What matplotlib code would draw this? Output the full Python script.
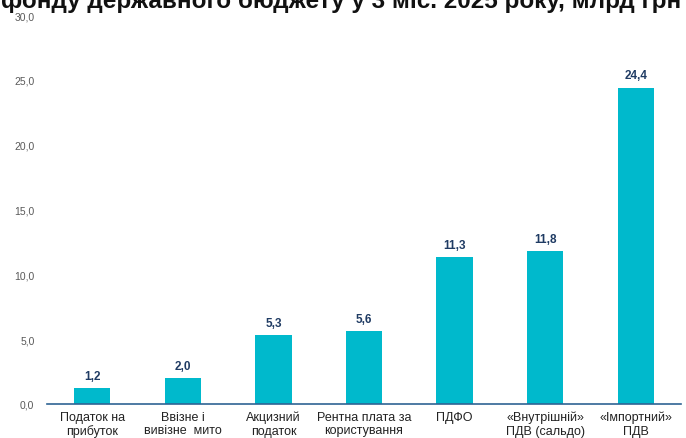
import matplotlib
matplotlib.use("Agg")
import matplotlib.pyplot as plt
import numpy as np

plt.rcParams['font.family'] = ['Liberation Sans', 'DejaVu Sans']

categories = ["Податок на\nприбуток", "Ввізне і\nвивізне  мито", "Акцизний\nподаток",
              "Рентна плата за\nкористування", "ПДФО", "«Внутрішній»\nПДВ (сальдо)",
              "«Імпортний»\nПДВ"]
values = [1.2, 2.0, 5.3, 5.6, 11.3, 11.8, 24.4]
yticks = [0, 5, 10, 15, 20, 25, 30]
title = "фонду державного бюджету у 3 міс. 2025 року, млрд грн"

bar_color = "#00B9CC"
label_color = "#1F3B63"
axis_color = "#2F6494"

fig = plt.figure(figsize=(6.86, 4.39), dpi=100)
ax = fig.add_axes([47 / 686, 34 / 439, 634 / 686, 389 / 439])

x = np.arange(len(values))
bars = ax.bar(x, values, width=0.4, color=bar_color)
for xi, v in zip(x, values):
    ax.text(xi, v + 0.5, f"{v:.1f}".replace(".", ","), ha="center", va="bottom",
            fontsize=8.5, fontweight="bold", color=label_color)

ax.set_xlim(-0.5, len(values) - 0.5)
ax.set_ylim(0, 30)
ax.set_yticks(yticks)
ax.set_yticklabels([f"{t:.1f}".replace(".", ",") for t in yticks], fontsize=7.5, color="#595959")
ax.set_xticks(x)
ax.set_xticklabels(categories, fontsize=9, color="#222222",
                   family=['Liberation Sans Narrow', 'Liberation Sans'], linespacing=1.12)
ax.tick_params(axis="both", length=0)
ax.tick_params(axis="y", pad=9)
ax.tick_params(axis="x", pad=5)

for side in ["top", "right", "left"]:
    ax.spines[side].set_visible(False)
ax.spines["bottom"].set_color(axis_color)
ax.spines["bottom"].set_linewidth(1.2)

# title is cut at the top edge in the original slide
fig.text(341 / 686, 1 - 8 / 439, title, ha="center", va="baseline", fontsize=17.5,
         fontweight="bold", color="#111111")

fig.savefig("out.png", dpi=100)
